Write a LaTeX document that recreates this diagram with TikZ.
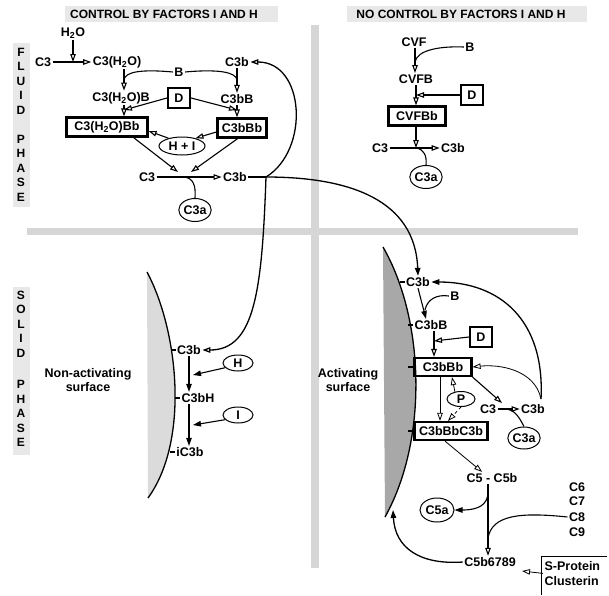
\documentclass[tikz,border=0pt]{standalone}
\usepackage{fontspec}
\setmainfont{Liberation Sans}
\usetikzlibrary{arrows.meta}
\usetikzlibrary{shapes.geometric}
\tikzset{>=latex}
\colorlet{bandgray}{gray!32}
\colorlet{tabgray}{gray!18}
\colorlet{palesurf}{gray!28}
\colorlet{darksurf}{gray!68}
\newcommand{\lbl}{\fontsize{12.5}{14.5}\selectfont\bfseries}
\newcommand{\hdr}{\fontsize{12}{14}\selectfont\bfseries}
\newcommand{\hto}{H\textsubscript{2}O}

\begin{document}
\begin{tikzpicture}[x=1pt, y=-1pt, line width=1.1pt,
    every node/.style={font=\lbl, inner sep=1pt},
    oarr/.style={-{Triangle[open,length=8pt,width=5.5pt]}},
    sarr/.style={-{Triangle[length=8pt,width=5.5pt]}},
    cbox/.style={draw, line width=2.2pt, inner sep=2pt, minimum height=19pt},
    dbox/.style={draw, line width=2.2pt, inner sep=2pt, minimum width=22pt, minimum height=20pt},
    fac/.style={draw, ellipse, line width=1pt, inner sep=0pt},
    col/.style={align=center, font=\fontsize{12}{14.5}\selectfont\bfseries, inner sep=0pt, anchor=north}]

    \useasboundingbox (0,0) rectangle (609,595);

    % bands and tabs
    \fill[tabgray] (65,6) rectangle (278,22);
    \fill[tabgray] (347,6) rectangle (587,22);
    \fill[tabgray] (13,43) rectangle (30,207);
    \fill[tabgray] (13,287) rectangle (30,455);
    \fill[bandgray] (27,228) rectangle (578,235);
    \fill[bandgray] (311,25) rectangle (319,568);

    \node[font=\hdr] (hdleft) at (164,14) {CONTROL BY FACTORS I AND H};
    \node[font=\hdr] (hdright) at (461,14) {NO CONTROL BY FACTORS I AND H};
    \node[col] (fluid) at (21,47.5) {F\\L\\U\\I\\D\\[14.5pt]P\\H\\A\\S\\E};
    \node[col] (solid) at (21,290.5) {S\\O\\L\\I\\D\\[17pt]P\\H\\A\\S\\E};

    % surfaces
    \fill[palesurf] (147,272) .. controls (178,330) and (190,440) .. (148,498) -- cycle;
    \draw[line width=1.3pt] (147,272) .. controls (178,330) and (190,440) .. (148,498);
    \fill[darksurf] (383,247) .. controls (425,320) and (428,440) .. (385,517) -- cycle;
    \draw[line width=1.3pt] (383,247) .. controls (425,320) and (428,440) .. (385,517);
    \node[align=center] (nonact) at (88,380) {Non-activating\\surface};
    \node[align=center] (act) at (348,380) {Activating\\surface};

    % fluid phase, factors I and H
    \node (h2o) at (73,33) {\hto};
    \node (c3in) at (43,62) {C3};
    \node (c3w) at (117,62) {C3(\hto)};
    \node (c3btop) at (237,62) {C3b};
    \node (bfl) at (179,72) {B};
    \node (c3wb) at (121,98) {C3(\hto)B};
    \node[dbox] (dfl) at (179,98) {D};
    \node (c3bbfl) at (237,99) {C3bB};
    \node[cbox, minimum width=81pt] (convw) at (107,127) {C3(\hto)Bb};
    \node[cbox, minimum width=49pt] (convb) at (242,128) {C3bBb};
    \node[fac, minimum width=46pt, minimum height=18pt] (hi) at (182,146) {H + I};
    \node (c3fl) at (147,177) {C3};
    \node (c3bfl) at (235,177) {C3b};
    \node[fac, minimum width=30pt, minimum height=23pt] (c3afl) at (195,210) {C3a};

    \coordinate (wat) at (73,62);
    \coordinate (bl) at (124,80);
    \coordinate (br) at (237,80);
    \coordinate (dl) at (124,110);
    \coordinate (dr) at (237,110);
    \coordinate (cut) at (184,177);
    \coordinate (cutl) at (178,172);
    \coordinate (cutr) at (191,172);
    \coordinate (hub) at (266,177);

    \draw[oarr] (c3in) -- (c3w);
    \draw[oarr] (h2o) -- (wat);
    \draw[oarr] (c3w.south -| bl) -- (c3wb.north -| bl);
    \draw (bfl.west) .. controls (140,69) and (125,72) .. (bl);
    \draw[oarr] (c3btop) -- (c3bbfl);
    \draw (bfl.east) .. controls (218,69) and (236,72) .. (br);
    \draw[oarr] (dfl.west) -- (dl);
    \draw[oarr] (dfl.east) -- (dr);
    \draw[oarr] (c3wb.south -| dl) -- (convw.north -| dl);
    \draw[oarr] (c3bbfl) -- (convb.north -| c3bbfl);
    \draw[oarr] (hi.150) -- ([yshift=-4pt]convw.east);
    \draw[oarr] ([yshift=-4pt]convb.west) -- (hi.30);
    \draw[oarr] ([xshift=-15pt]convw.south east) -- (cutl);
    \draw[oarr] ([xshift=-30pt]convb.south east) -- (cutr);
    \draw[oarr] (c3fl) -- (c3bfl);
    \draw (cut) .. controls (193,178) and (196,185) .. (c3afl.north);
    \draw (c3bfl.east) -- (hub);
    \draw[oarr, line width=1.3pt] (hub) .. controls (310,150) and (305,62) .. (c3btop.east);

    % fluid phase, cobra venom factor
    \node (cvf) at (414,42) {CVF};
    \node (bfr) at (470,47) {B};
    \node (cvfb) at (416,79) {CVFB};
    \node[dbox] (dfr) at (472,95) {D};
    \node[cbox, minimum width=57pt] (cvfbb) at (417,116) {CVFBb};
    \node (c3fr) at (380,148) {C3};
    \node (c3bfr) at (453,148) {C3b};
    \node[fac, minimum width=30pt, minimum height=23pt] (c3afr) at (426,177) {C3a};

    \coordinate (bj) at (415,62);
    \coordinate (dj) at (416,95);
    \coordinate (cutfr) at (416,148);

    \draw[oarr] (cvf.south -| bj) -- (cvfb.north -| bj);
    \draw (bfr.west) .. controls (440,46) and (417,50) .. (bj);
    \draw[oarr] (dfr.west) -- (dj);
    \draw[oarr] (cvfb.south -| dj) -- (cvfbb.north -| dj);
    \draw[oarr] (cvfbb.south -| cutfr) -- (cutfr);
    \draw[oarr] (c3fr) -- (c3bfr);
    \draw (cutfr) .. controls (424,149) and (427,156) .. (c3afr.north);

    % non-activating surface
    \node (c3bna) at (189,350) {C3b};
    \node[fac, minimum width=30pt, minimum height=16pt] (hna) at (238,363) {H};
    \node (c3bh) at (198,398) {C3bH};
    \node[fac, minimum width=30pt, minimum height=16pt] (ina) at (238,415) {I};
    \node (ic3b) at (190,452) {iC3b};

    \coordinate (hhit) at (193,375);
    \coordinate (ihit) at (193,425);

    \draw[oarr, line width=1.3pt] (hub) .. controls (262,290) and (255,350) .. (c3bna.east);
    \draw[sarr] (c3bna.south) -- (c3bna.south |- c3bh.north);
    \draw[sarr] (hna.200) -- (hhit);
    \draw[sarr] (c3bh.south -| c3bna) -- (ic3b.north -| c3bna);
    \draw[sarr] (ina.200) -- (ihit);
    \draw (c3bna.west) -- ++(-5,0);
    \draw (c3bh.west) -- ++(-5,0);
    \draw (ic3b.west) -- ++(-5,0);

    % activating surface
    \node (c3bact) at (418,282) {C3b};
    \node (bact) at (455,296) {B};
    \node (c3bbact) at (431,325) {C3bB};
    \node[dbox] (dact) at (481,337) {D};
    \node[cbox, minimum width=57pt, minimum height=18pt] (convact) at (443,367) {C3bBb};
    \node[fac, minimum width=28pt, minimum height=15pt] (pact) at (461,399) {P};
    \node (c3act) at (488,409) {C3};
    \node (c3bout) at (533,409) {C3b};
    \node[fac, minimum width=29pt, minimum height=22pt] (c3aact) at (524,438) {C3a};
    \node[cbox, minimum width=73pt, minimum height=18pt] (c5conv) at (451,431) {C3bBbC3b};
    \node (c5) at (492,478) {C5 - C5b};
    \node[fac, minimum width=34pt, minimum height=24pt] (c5a) at (437,510) {C5a};
    \node (c6) at (577,487) {C6};
    \node (c7) at (577,501) {C7};
    \node (c8) at (577,517) {C8};
    \node (c9) at (577,532) {C9};
    \node (mac) at (490,562) {C5b6789};
    \node[align=left, anchor=north west] (sprot) at (543,560) {S-Protein\\Clusterin};

    \coordinate (bjact) at (425,310);
    \coordinate (djact) at (434,341);
    \coordinate (cutact) at (506,409);
    \coordinate (cuthit) at (502,403);
    \coordinate (loop) at (541,399);
    \coordinate (c5stem) at (488,492);
    \coordinate (c9join) at (488,538);
    \coordinate (surfhit) at (393,510);
    \coordinate (maclink) at (522,571);

    \draw[sarr, line width=1.3pt] (hub) .. controls (350,177) and (415,200) .. (c3bact.north);
    \draw[sarr] (c3bact.south) -- ([xshift=-5pt]c3bbact.north);
    \draw (bact.west) .. controls (436,294) and (427,300) .. (bjact);
    \draw[oarr] (dact.west) -- (djact);
    \draw[oarr] (c3bbact.south -| djact) -- (convact.north -| djact);
    \draw[sarr, line width=1.3pt] (loop) .. controls (545,320) and (500,282) .. (c3bact.east);
    \draw[oarr, line width=0.8pt] (loop) .. controls (535,370) and (500,364) .. (convact.east);
    \draw[oarr] (convact.south east) -- (cuthit);
    \draw[oarr] (c3act) -- (c3bout);
    \draw (cutact) .. controls (515,410) and (519,417) .. (c3aact.north);
    \draw[oarr, line width=0.8pt] (pact.130) -- ([xshift=9pt]convact.south);
    \draw[oarr, line width=0.8pt] ([xshift=-3pt]convact.south) -- ([xshift=-11pt]c5conv.north);
    \draw[oarr, dashed, line width=0.8pt] (pact.south) -- ([xshift=-3pt]c5conv.north);
    \draw[oarr, line width=0.8pt] ([xshift=-6pt]c5conv.south) -- ([xshift=17pt]c5.north west);
    \draw[oarr] (c5.south -| c5stem) -- (mac.north -| c5stem);
    \draw[sarr] (c5stem) .. controls (488,505) and (478,510) .. (c5a.east);
    \draw (c8.west) .. controls (520,512) and (492,515) .. (c9join);
    \draw[sarr, line width=1.3pt] (mac.west) .. controls (420,565) and (395,548) .. (surfhit);
    \draw[oarr, line width=0.8pt] (sprot.west) -- (maclink);
    \draw[line width=0.8pt] (607,556) -- (541,556) -- (541,595);
    \draw (c3bact.west) -- ++(-5,0);
    \draw (c3bbact.west) -- ++(-5,0);
    \draw (convact.west) -- ++(-5,0);
    \draw (c5conv.west) -- ++(-5,0);

\end{tikzpicture}
\end{document}
